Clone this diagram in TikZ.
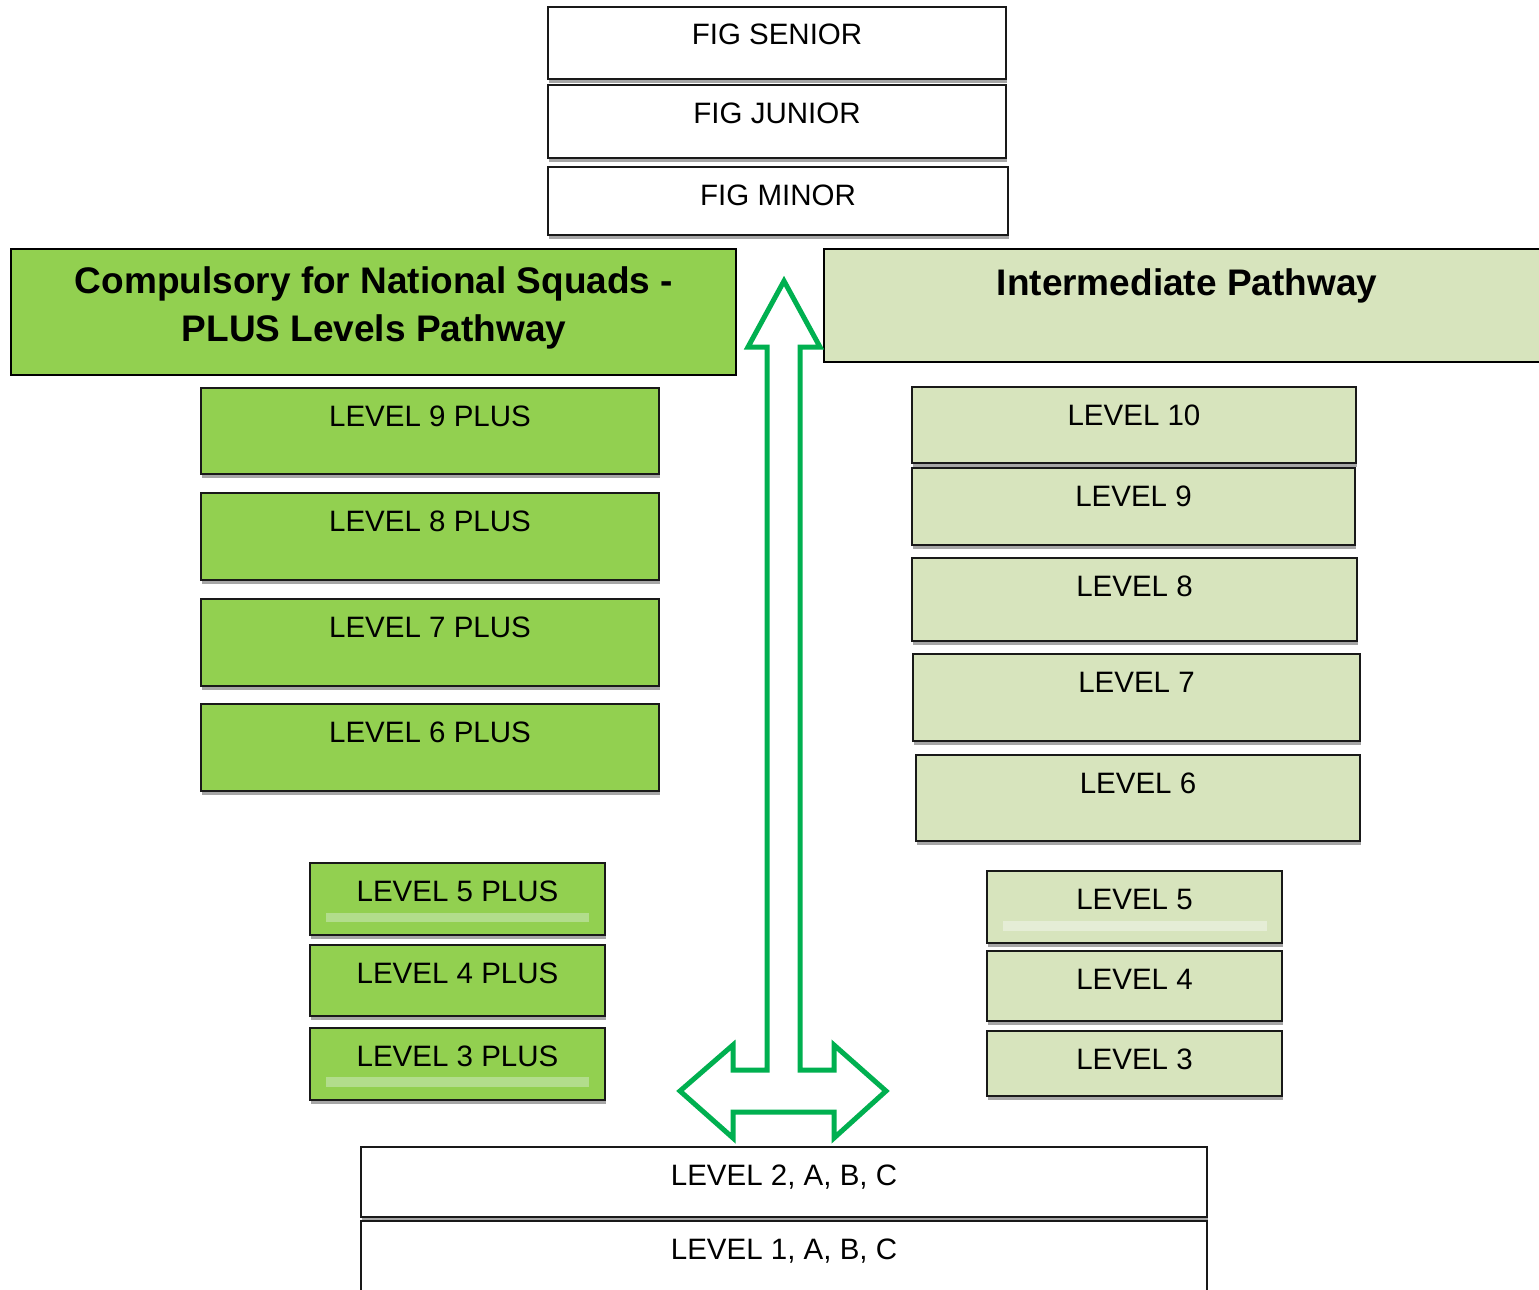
\documentclass[tikz,border=0pt]{standalone}
\usepackage{fontspec}
\setmainfont{Liberation Sans}
\usetikzlibrary{shadows,calc}
\definecolor{dg}{HTML}{92D050}
\definecolor{lg}{HTML}{D7E4BD}
\definecolor{ag}{HTML}{00B050}
\definecolor{dstripe}{HTML}{B2DD8C}
\definecolor{lstripe}{HTML}{E5EDD6}
\tikzset{
  boxbase/.style={draw=black!90, line width=2pt, inner sep=0pt, outer sep=0pt, anchor=north west,
    drop shadow={shadow xshift=1pt, shadow yshift=-4pt, fill=black, opacity=0.35}},
  whitebox/.style={boxbase, fill=white},
  darkbox/.style={boxbase, fill=dg},
  lightbox/.style={boxbase, fill=lg},
  lbl/.style={anchor=base, font=\fontsize{29.5}{34}\selectfont, inner sep=0pt},
  header/.style={draw=black, line width=1.3pt, inner sep=0pt, outer sep=0pt, anchor=north west},
  htitle/.style={font=\fontsize{37}{48}\selectfont\bfseries, align=center, inner sep=0pt},
}
\newcommand\LevBox[7]{%
  \pgfmathsetmacro\bw{#5-#3}\pgfmathsetmacro\bh{#6-#4}%
  \node[#2, minimum width=\bw pt, minimum height=\bh pt] (#1) at (#3,#4) {};
  \node[lbl] (#1t) at ($(#1.north)+(0,38)$) {#7};
}
\begin{document}
\begin{tikzpicture}[x=1pt,y=-1pt]
\useasboundingbox[fill=white] (0,0) rectangle (1539,1290);
% top white boxes
\LevBox{fs}{whitebox}{548}{7}{1006}{79}{FIG SENIOR}
\LevBox{fj}{whitebox}{548}{85}{1006}{158}{FIG JUNIOR}
\LevBox{fm}{whitebox}{548}{167}{1008}{235}{FIG MINOR}
% headers
\node[header, fill=dg, minimum width=725pt, minimum height=126pt] (hl) at (11,249) {};
\node[htitle] (hlt) at (374,308) {Compulsory for National Squads -\\PLUS Levels Pathway};
\node[header, fill=lg, minimum width=730pt, minimum height=113pt] (hr) at (824,249) {};
\node[htitle, anchor=base] (hrt) at (1187,295) {Intermediate Pathway};
% left pathway
\LevBox{p9}{darkbox}{201}{388}{659}{474}{LEVEL 9 PLUS}
\LevBox{p8}{darkbox}{201}{493}{659}{580}{LEVEL 8 PLUS}
\LevBox{p7}{darkbox}{201}{599}{659}{686}{LEVEL 7 PLUS}
\LevBox{p6}{darkbox}{201}{704}{659}{791}{LEVEL 6 PLUS}
\LevBox{p5}{darkbox}{310}{863}{605}{935}{LEVEL 5 PLUS}
\fill[dstripe] (326,913) rectangle (589,922);
\LevBox{p4}{darkbox}{310}{945}{605}{1016}{LEVEL 4 PLUS}
\LevBox{p3}{darkbox}{310}{1028}{605}{1100}{LEVEL 3 PLUS}
\fill[dstripe] (326,1077) rectangle (589,1087);
% right pathway
\LevBox{i10}{lightbox}{912}{387}{1356}{463}{LEVEL 10}
\LevBox{i9}{lightbox}{912}{468}{1355}{545}{LEVEL 9}
\LevBox{i8}{lightbox}{912}{558}{1357}{641}{LEVEL 8}
\LevBox{i7}{lightbox}{913}{654}{1360}{741}{LEVEL 7}
\LevBox{i6}{lightbox}{916}{755}{1360}{841}{LEVEL 6}
\LevBox{i5}{lightbox}{987}{871}{1282}{943}{LEVEL 5}
\fill[lstripe] (1003,921) rectangle (1267,931);
\LevBox{i4}{lightbox}{987}{951}{1282}{1021}{LEVEL 4}
\LevBox{i3}{lightbox}{987}{1031}{1282}{1096}{LEVEL 3}
% bottom white boxes
\LevBox{b2}{whitebox}{361}{1147}{1207}{1217}{LEVEL 2, A, B, C}
\LevBox{b1}{whitebox}{361}{1221}{1207}{1310}{LEVEL 1, A, B, C}
% arrow
\draw[ag, line width=5pt, line join=miter]
  (784,281) -- (820,347) -- (800,347) -- (800,1070) -- (834,1070) -- (834,1045)
  -- (886,1091) -- (834,1138) -- (834,1112) -- (733,1112) -- (733,1138)
  -- (680,1091) -- (733,1045) -- (733,1070) -- (767,1070) -- (767,347)
  -- (748,347) -- cycle;
\end{tikzpicture}
\end{document}
